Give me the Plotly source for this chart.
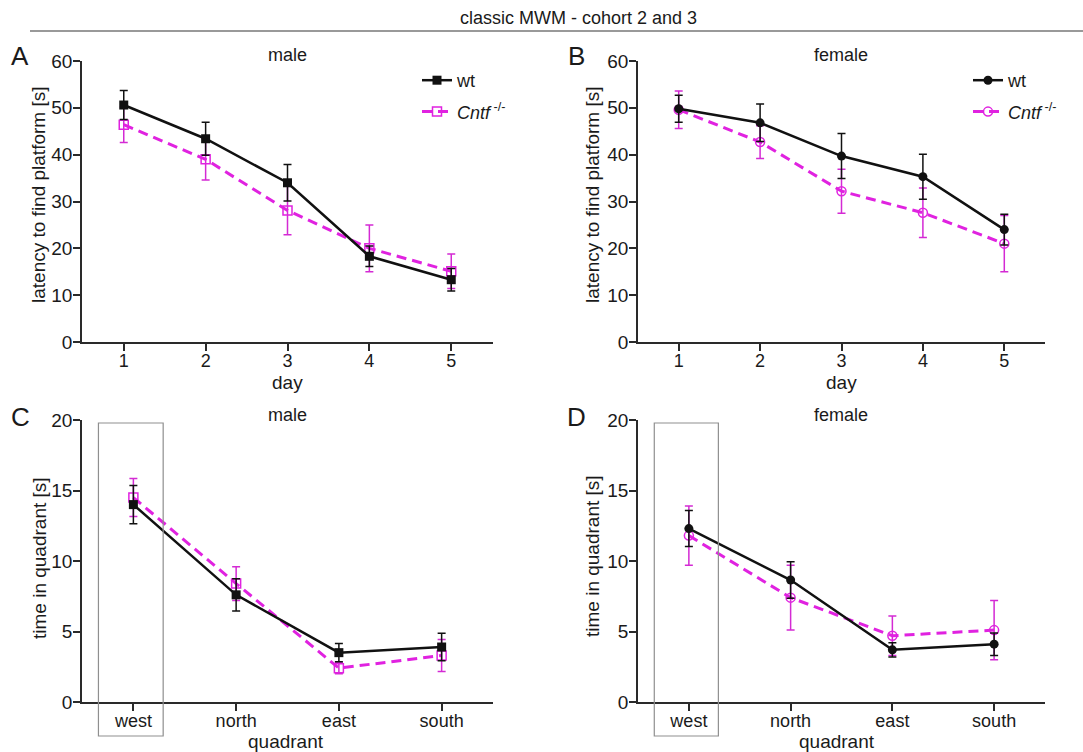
import plotly.graph_objects as go

W, H = 1083, 752

days = [1, 2, 3, 4, 5]
quadrants = ["west", "north", "east", "south"]

male_day_wt = [50.6, 43.4, 34.0, 18.3, 13.3]
male_day_wt_err = [3.1, 3.5, 3.9, 2.2, 2.4]
male_day_ko = [46.4, 39.0, 28.1, 20.0, 15.1]
male_day_ko_err = [3.8, 4.4, 5.2, 5.0, 3.7]

female_day_wt = [49.8, 46.8, 39.7, 35.3, 24.0]
female_day_wt_err = [2.9, 4.0, 4.8, 4.8, 3.3]
female_day_ko = [49.6, 42.7, 32.2, 27.6, 21.0]
female_day_ko_err = [4.0, 3.5, 4.7, 5.3, 6.0]

male_quad_wt = [14.0, 7.6, 3.5, 3.9]
male_quad_wt_err = [1.35, 1.15, 0.65, 0.97]
male_quad_ko = [14.5, 8.4, 2.4, 3.3]
male_quad_ko_err = [1.35, 1.2, 0.4, 1.13]

female_quad_wt = [12.3, 8.65, 3.7, 4.1]
female_quad_wt_err = [1.28, 1.3, 0.5, 0.8]
female_quad_ko = [11.8, 7.4, 4.7, 5.1]
female_quad_ko_err = [2.1, 2.3, 1.4, 2.1]

BLACK = "#111111"
MAG = "#e022e0"
MAG_ERR = "#d42ad4"
FONT = "Liberation Sans, Arial, sans-serif"
KO_NAME = "<i>Cntf</i><sup> -/-</sup>"

fig = go.Figure()


def add_pair(x, wt, wt_err, ko, ko_err, xa, ya, symbol, legend, show):
    fig.add_trace(go.Scatter(
        x=x, y=ko, name=KO_NAME, mode="lines+markers",
        line=dict(color=MAG, width=3, dash="10px,6px"),
        marker=dict(symbol=symbol + "-open", size=9, color=MAG, line=dict(width=1.5, color=MAG)),
        error_y=dict(type="data", array=ko_err, color=MAG_ERR, thickness=1.5, width=4),
        xaxis=xa, yaxis=ya, legend=legend, showlegend=show, legendrank=2,
        legendgroup=legend + "ko"))
    fig.add_trace(go.Scatter(
        x=x, y=wt, name="wt", mode="lines+markers",
        line=dict(color=BLACK, width=2.5),
        marker=dict(symbol=symbol, size=9, color=BLACK),
        error_y=dict(type="data", array=wt_err, color=BLACK, thickness=1.5, width=4),
        xaxis=xa, yaxis=ya, legend=legend, showlegend=show, legendrank=1,
        legendgroup=legend + "wt"))


add_pair(days, male_day_wt, male_day_wt_err, male_day_ko, male_day_ko_err, "x", "y", "square", "legend", True)
add_pair(days, female_day_wt, female_day_wt_err, female_day_ko, female_day_ko_err, "x2", "y2", "circle", "legend2", True)
add_pair(quadrants, male_quad_wt, male_quad_wt_err, male_quad_ko, male_quad_ko_err, "x3", "y3", "square", "legend", False)
add_pair(quadrants, female_quad_wt, female_quad_wt_err, female_quad_ko, female_quad_ko_err, "x4", "y4", "circle", "legend2", False)


def px(x):
    return x / W


def py(y):
    return 1 - y / H


axis_common = dict(showgrid=False, zeroline=False, showline=True, linecolor="#2a2a2a", linewidth=1.5,
                   ticks="outside", ticklen=7, tickwidth=1.5, tickcolor="#2a2a2a",
                   tickfont=dict(family=FONT, size=19, color="#1a1a1a"), automargin=False, mirror=False)

top_y = [py(342), py(61)]
bot_y = [py(702), py(420)]
left_x = [px(82), px(493)]
right_x = [px(638), px(1045)]

xa_extra = dict(ticklabelstandoff=-5)
ya_extra = dict(ticklabelstandoff=-3)

fig.update_layout(
    xaxis=dict(axis_common, **xa_extra, domain=left_x, range=[0.49, 5.51], tickvals=days, anchor="y"),
    yaxis=dict(axis_common, **ya_extra, domain=top_y, range=[0, 60], dtick=10, anchor="x"),
    xaxis2=dict(axis_common, **xa_extra, domain=right_x, range=[0.5, 5.5], tickvals=days, anchor="y2"),
    yaxis2=dict(axis_common, **ya_extra, domain=top_y, range=[0, 60], dtick=10, anchor="x2"),
    xaxis3=dict(axis_common, **xa_extra, domain=left_x, range=[-0.5, 3.5], type="category",
                categoryorder="array", categoryarray=quadrants, anchor="y3"),
    yaxis3=dict(axis_common, **ya_extra, domain=bot_y, range=[0, 20], dtick=5, anchor="x3"),
    xaxis4=dict(axis_common, **xa_extra, domain=right_x, range=[-0.5, 3.5], type="category",
                categoryorder="array", categoryarray=quadrants, anchor="y4"),
    yaxis4=dict(axis_common, **ya_extra, domain=bot_y, range=[0, 20], dtick=5, anchor="x4"),
)
fig.update_xaxes(tickfont=dict(size=18))

legend_common = dict(font=dict(family=FONT, size=18, color="#1a1a1a"), bgcolor="rgba(0,0,0,0)",
                     traceorder="grouped", tracegroupgap=5, itemwidth=30, xanchor="left", yanchor="top")
fig.update_layout(
    legend=dict(legend_common, x=px(417), y=py(62)),
    legend2=dict(legend_common, x=px(968), y=py(62)),
)

ann = []


def text(t, x, y, size=18, angle=0, xanchor="center"):
    ann.append(dict(text=t, x=px(x), y=py(y), xref="paper", yref="paper", showarrow=False,
                    xanchor=xanchor, yanchor="middle", textangle=angle,
                    font=dict(family=FONT, size=size, color="#1a1a1a")))


text("classic MWM - cohort 2 and 3", 578, 18, 18)
for letter, x, y in [("A", 20, 56), ("B", 576, 56), ("C", 20, 417), ("D", 576, 417)]:
    text(letter, x, y, 26)
text("male", 287, 55)
text("female", 841, 55)
text("male", 287, 415)
text("female", 841, 415)
text("day", 287, 382, 19)
text("day", 841, 382, 19)
text("quadrant", 286, 741, 19)
text("quadrant", 837, 741, 19)
text("latency to find platform [s]", 39, 195, 19, -90)
text("latency to find platform [s]", 593, 195, 19, -90)
text("time in quadrant [s]", 39, 558, 19, -90)
text("time in quadrant [s]", 592, 556, 19, -90)

shapes = [
    dict(type="line", xref="paper", yref="paper", x0=px(30), x1=1, y0=py(31), y1=py(31),
         line=dict(color="#777777", width=1.3)),
    dict(type="rect", xref="x3", yref="paper", x0=-0.34, x1=0.29, y0=py(736), y1=py(423),
         line=dict(color="#8f8f8f", width=1.2)),
    dict(type="rect", xref="x4", yref="paper", x0=-0.34, x1=0.29, y0=py(736), y1=py(423),
         line=dict(color="#8f8f8f", width=1.2)),
]

fig.update_layout(
    width=W, height=H, margin=dict(l=0, r=0, t=0, b=0),
    paper_bgcolor="white", plot_bgcolor="white", template="none",
    annotations=ann, shapes=shapes,
    font=dict(family=FONT, color="#1a1a1a"),
)

fig.write_html("out.html", config={"displayModeBar": False},
               post_script="document.body.style.margin='0';document.body.style.overflow='hidden';")
